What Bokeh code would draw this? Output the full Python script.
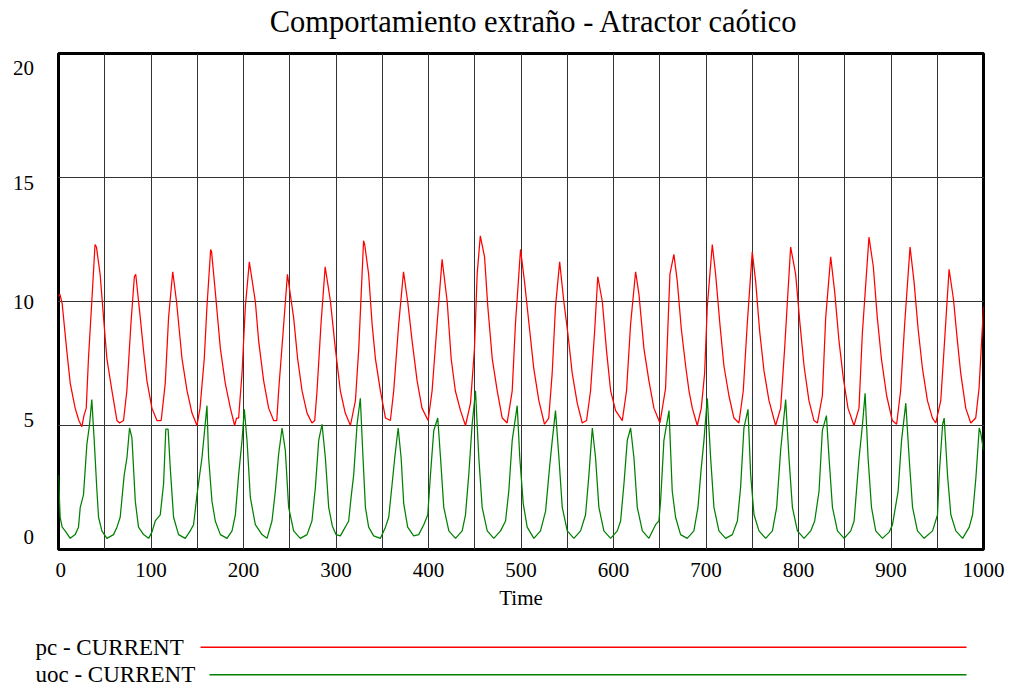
from bokeh.plotting import figure
from bokeh.models import Range1d, FixedTicker, Grid
from bokeh.layouts import column, row
from bokeh.embed import file_html
from bokeh.resources import INLINE
from bokeh.core.properties import value

# ---- simulated series (Time, value) ----
time_pc = [
    0, 1.5, 4, 9, 12.7, 18, 22, 25.3, 27.5, 30, 32.4, 36, 39.5, 41, 45, 48.7, 52.3, 57.8, 63.2, 66,
    70.3, 73.9, 78.3, 82, 83.5, 88.4, 92, 95.6, 101, 106.4, 111, 115.4, 119, 123.5, 127.6, 133.5,
    139, 144.3, 149.7, 153, 157.6, 160.5, 164.5, 165.5, 169.5, 175, 180.3, 185.8, 190.4, 192.5,
    194.7, 198.4, 202, 206.3, 212.8, 216.4, 221.8, 227.2, 232.6, 236, 238, 242.7, 247.5, 254.2,
    258.5, 263.3, 268.7, 274, 277, 279.5, 283.8, 288.3, 294, 299.3, 304.7, 310, 315.6, 321, 324.6,
    329.8, 331, 335.3, 339, 342.6, 348, 353.5, 358.8, 362.4, 367.8, 373, 377.5, 382.3, 387.7, 393,
    399.6, 403.9, 409.3, 414.7, 420.2, 424.5, 429, 434.6, 440, 445.4, 449.7, 452.6, 456, 460.6,
    464.1, 468.9, 474.3, 479.7, 485, 490.5, 494, 499.5, 503.8, 509.5, 513.8, 519.3, 525.4, 530,
    533.7, 537.3, 541.8, 546.3, 550.7, 555.4, 560.8, 566.2, 570.9, 575.2, 579.6, 583, 587.9, 592.5,
    596.9, 602.3, 609.5, 614.1, 618.5, 623.9, 627.5, 632.9, 638.3, 643.7, 650.2, 656.3, 661, 665.3,
    669, 673.3, 678, 681.6, 685.2, 690.6, 694.9, 698.5, 701.4, 706.8, 710.4, 715, 719.4, 724.8,
    730.2, 735.6, 740.3, 744.6, 750, 753.7, 758, 762.7, 768.1, 775.3, 780.7, 785, 791.5, 796.9,
    801.6, 806, 811.3, 816.7, 820.4, 825.8, 829.4, 834.8, 839.1, 843.8, 848.5, 853.5, 860, 865.4,
    869, 876.2, 880.9, 885.2, 889.6, 895.3, 901.4, 906.1, 910.4, 914.8, 920.6, 924.9, 929.3, 934,
    939.4, 944.8, 948.4, 953.8, 957.4, 962.8, 967.5, 971.8, 975.4, 980.8, 986.2, 991.6, 995.2, 1000,
]
pc = [
    10.2, 10.3, 9.9, 8.0, 6.7, 5.7, 5.2, 4.95, 5.4, 5.7, 7.7, 10.0, 12.3, 12.2, 11.1, 9.35, 7.7, 6.4, 5.2, 5.1,
    5.2, 6.4, 9.1, 11.0, 11.1, 9.35, 8.0, 6.8, 5.7, 5.2, 5.2, 6.7, 9.35, 11.2, 10.0, 7.7,
    6.4, 5.5, 5.0, 5.7, 7.7, 9.8, 12.1, 12.0, 10.4, 8.1, 6.7, 5.7, 5.0, 5.3,
    5.3, 7.1, 9.8, 11.6, 10.0, 8.4, 6.8, 5.7, 5.2, 5.2, 6.4, 8.7, 11.1, 9.35,
    7.7, 6.4, 5.5, 5.1, 5.2, 6.4, 9.1, 11.4, 10.0, 8.1, 6.4, 5.5, 5.0, 6.0, 8.1,
    12.45, 12.3, 11.1, 9.1, 7.7, 6.4, 5.3, 5.2, 6.4, 9.1, 11.2, 10.0, 8.4, 6.8, 5.7,
    5.2, 6.4, 9.1, 11.7, 10.0, 7.7, 6.4, 5.6, 5.0, 5.9, 8.1, 11.1, 12.65, 11.8,
    9.8, 7.7, 6.4, 5.3, 5.1, 6.4, 9.1, 12.1, 10.8, 8.8, 7.3, 6.0, 5.05, 5.3,
    7.1, 9.8, 11.6, 10.0, 8.7, 7.1, 5.9, 5.1, 5.2, 6.4, 8.8, 11.0, 10.0, 8.0,
    6.4, 5.6, 5.2, 6.4, 9.1, 11.2, 10.3, 8.1, 6.8, 5.7, 5.1, 6.5, 11.1, 11.9,
    10.8, 8.9, 7.4, 6.4, 5.7, 5.0, 5.7, 7.1, 9.8, 12.3, 11.1, 9.1, 7.4, 6.2,
    5.3, 5.1, 6.4, 9.1, 12.0, 10.8, 8.8, 7.2, 6.0, 5.0, 5.7, 8.1, 12.2, 11.1,
    9.1, 7.4, 6.0, 5.2, 5.1, 6.2, 9.35, 11.8, 10.4, 8.4, 6.9, 5.7, 5.0, 5.7,
    8.7, 12.6, 11.4, 9.35, 7.7, 6.2, 5.2, 5.05, 6.4, 9.1, 12.2, 10.8, 8.9, 7.3,
    6.0, 5.3, 5.1, 6.0, 8.1, 11.3, 10.1, 8.4, 7.1, 5.7, 5.1, 5.3, 6.5, 9.8,
]

time_uoc = [
    0, 1.8, 4, 7.2, 12.7, 18, 21.6, 23.5, 27, 30.7, 33.6, 36, 38.6, 41.5, 43.3, 46.9, 52.3, 59.5,
    63.2, 66.7, 71, 74, 76.8, 79.4, 83, 86.5, 92, 97.4, 101, 104.6, 110, 113.6, 116, 118.5, 120.8,
    124.4, 129.8, 137, 142.4, 146, 149.7, 155.1, 160.5, 162.3, 165.9, 169.5, 175, 182.2, 187.6,
    191.2, 194.7, 198.4, 200.9, 203.8, 207.4, 212.8, 220, 225.4, 230.8, 234.4, 238, 241.7, 245.2,
    248.8, 254.2, 261.4, 268.7, 274, 277.7, 281.3, 284.9, 288.5, 292.1, 296, 300, 304.7, 310,
    313.7, 316.3, 319.1, 322.8, 326.3, 329.2, 331.8, 335.3, 340.7, 348, 353.5, 357, 360.7, 363.5,
    367.2, 370.4, 373.2, 377.5, 384, 389.4, 394.9, 399.2, 402.1, 405.7, 410, 413, 416.5, 422,
    429.2, 436.4, 440, 443.5, 447.2, 450.8, 454.4, 458, 463.5, 470.6, 477.9, 483.3, 486.8, 490.5,
    495.9, 498.7, 502.4, 506.7, 513.9, 521.1, 526.6, 531.2, 533.8, 537.3, 541, 544.6, 550, 557.2,
    564.4, 569.8, 573.4, 577.1, 580.6, 584.2, 589.6, 596.9, 604.1, 607.7, 611.3, 614.9, 618.5,
    622.1, 625.7, 631.2, 638.3, 645.5, 649.1, 651, 654.5, 660, 663.5, 667.1, 672.5, 679.7, 686.9,
    691.3, 694.9, 697.8, 701.4, 705, 708.6, 714, 721.2, 728.5, 733.9, 737.4, 741, 745.4, 748.3,
    751.9, 757.3, 764.5, 771.8, 776.4, 780.7, 786.1, 789.7, 793.4, 798.8, 806, 813.2, 817.5, 822.2,
    825.8, 830.2, 833, 836.7, 842.1, 849.3, 856.5, 860.1, 865.5, 869.2, 872, 875.2, 878.9, 883.5,
    890.8, 898, 901.6, 907.7, 911.4, 916, 919.6, 923.3, 928.6, 935.8, 944.9, 950.3, 952.1, 955.8,
    957.5, 961.1, 964.7, 970.1, 977.4, 984.6, 988.2, 991.8, 995.4, 997, 1000,
]
uoc = [
    3.0, 1.3, 0.9, 0.75, 0.45, 0.6, 0.9, 1.7, 2.2, 4.25, 5.05, 6.05, 4.4, 2.4, 1.3, 0.75, 0.45, 0.6,
    0.9, 1.3, 3.0, 3.7, 4.9, 4.5, 1.95, 0.9, 0.6, 0.45, 0.7, 1.15, 1.4, 2.65, 4.85, 4.85, 3.3,
    1.3, 0.6, 0.45, 0.75, 1.0, 2.2, 3.7, 5.8, 3.7, 1.95, 1.15, 0.6, 0.45, 0.75,
    1.4, 3.0, 4.4, 5.65, 4.4, 2.1, 1.0, 0.6, 0.45, 1.15, 2.35, 3.85, 4.9, 4.0,
    1.7, 0.75, 0.45, 0.6, 1.15, 2.5, 4.4, 5.05, 3.7, 1.7, 0.95, 0.6, 0.55, 0.9,
    1.15, 2.1, 3.0, 5.05, 6.1, 3.7, 1.7, 0.9, 0.55, 0.45, 0.9, 1.3, 2.65, 3.7,
    4.9, 3.7, 1.85, 0.9, 0.55, 0.6, 1.0, 1.4, 3.0, 4.8, 5.3, 3.7, 1.7, 0.75,
    0.45, 0.75, 1.4, 3.0, 5.05, 6.4, 3.7, 1.7, 0.75, 0.45, 0.75, 1.15, 2.35, 4.4,
    5.8, 3.7, 1.85, 0.9, 0.45, 0.75, 1.55, 3.45, 4.4, 5.6, 3.7, 1.7, 0.75, 0.45,
    0.75, 1.4, 3.0, 4.9, 3.7, 1.7, 0.75, 0.45, 0.75, 1.15, 2.65, 4.4, 4.9,
    3.7, 1.7, 0.75, 0.45, 1.0, 1.15, 2.0, 4.4, 5.6, 2.35, 1.3, 0.6, 0.45, 0.75,
    1.7, 3.3, 4.4, 6.1, 3.7, 1.7, 0.75, 0.45, 0.6, 1.15, 2.5, 4.9, 5.65, 3.0,
    1.4, 0.75, 0.45, 0.75, 1.7, 4.0, 6.05, 3.7, 1.7, 0.75, 0.45, 0.75, 1.15, 2.35,
    4.8, 5.4, 3.7, 1.7, 0.75, 0.45, 0.75, 1.15, 3.7, 5.05, 6.3, 3.7, 1.7, 0.75,
    0.45, 0.7, 1.0, 2.35, 4.4, 5.9, 3.7, 1.7, 0.75, 0.45, 0.75, 1.4, 3.0, 5.05,
    5.3, 3.0, 1.4, 0.75, 0.45, 0.9, 1.4, 2.9, 4.9, 4.7, 4.0,
]

x_ticks = [0, 100, 200, 300, 400, 500, 600, 700, 800, 900, 1000]
x_grid_ticks = [50 * i for i in range(1, 20)]
y_ticks = [0, 5, 10, 15, 20]
y_tick_labels = ["0", "5", "10", "15", "20"]
y_grid_ticks = [5, 10, 15]

title_text = "Comportamiento extraño - Atractor caótico"
series_names = ["pc - CURRENT", "uoc - CURRENT"]
series_colors = ["#ff0000", "#008000"]

FONT = "Liberation Serif"
GRID_COLOR = "#333333"
PAGE_W = 1012
TITLE_H = 50          # strip holding the chart title
LABEL_W = 55          # strip holding the value labels
MAIN_H = 575
LEGEND_H = 688 - TITLE_H - MAIN_H


def strip(width, height, **kw):
    """A bare figure used as a drawing surface in pixel coordinates."""
    f = figure(
        width=width, height=height,
        x_range=Range1d(0, width), y_range=Range1d(height, 0),
        output_backend="svg", toolbar_location=None,
        x_axis_location=None, y_axis_location=None,
        min_border_left=0, min_border_right=0, min_border_top=0, min_border_bottom=0,
        frame_align=False, **kw,
    )
    f.outline_line_color = None
    f.grid.visible = False
    f.background_fill_color = "white"
    f.border_fill_color = "white"
    return f


# ---- title ----
head = strip(PAGE_W, TITLE_H)
head.text(x=[533.5], y=[21.5], text=[title_text], text_font=value(FONT),
          text_font_size="30.5px", text_align="center", text_baseline="middle",
          text_color="black")

# ---- main chart ----
p = figure(
    width=PAGE_W - LABEL_W, height=MAIN_H,
    x_range=Range1d(0, 1000), y_range=Range1d(0, 20),
    output_backend="svg", toolbar_location=None,
    y_axis_location=None,
    min_border_left=3, min_border_right=29, min_border_top=3, min_border_bottom=76,
)
p.background_fill_color = "white"
p.border_fill_color = "white"
p.outline_line_color = "black"
p.outline_line_width = 3

xa = p.xaxis[0]
xa.ticker = FixedTicker(ticks=x_ticks)
xa.axis_line_color = None
xa.major_tick_line_color = None
xa.minor_tick_line_color = None
xa.major_label_text_font = FONT
xa.major_label_text_font_size = "21px"
xa.major_label_text_color = "black"
xa.major_label_standoff = 7
xa.axis_label = "Time"
xa.axis_label_text_font = FONT
xa.axis_label_text_font_size = "21px"
xa.axis_label_text_font_style = "normal"
xa.axis_label_text_color = "black"
xa.axis_label_standoff = 6

p.xgrid.ticker = FixedTicker(ticks=x_grid_ticks)
p.xgrid.grid_line_color = GRID_COLOR
p.xgrid.grid_line_width = 1

p.add_layout(Grid(dimension=1, ticker=FixedTicker(ticks=y_grid_ticks),
                  grid_line_color=GRID_COLOR, grid_line_width=1))

p.line(time_pc, pc, line_color=series_colors[0], line_width=1.25)
p.line(time_uoc, uoc, line_color=series_colors[1], line_width=1.25)

# ---- value labels strip, sharing the chart's y scale ----
ylab = figure(
    width=LABEL_W, height=MAIN_H,
    x_range=Range1d(0, LABEL_W), y_range=p.y_range,
    output_backend="svg", toolbar_location=None,
    x_axis_location=None, y_axis_location=None,
    min_border_left=0, min_border_right=0, min_border_top=3, min_border_bottom=76,
)
ylab.outline_line_color = None
ylab.grid.visible = False
ylab.background_fill_color = "white"
ylab.border_fill_color = "white"
# end labels are pulled inward so they stay within the frame height
label_shift = [-13, -6, 0, 5, 14]
ylab.text(x=[33.5] * len(y_ticks), y=y_ticks, text=y_tick_labels, y_offset=label_shift,
          text_font=value(FONT), text_font_size="21px", text_align="right",
          text_baseline="middle", text_color="black")

# ---- legend strip below the chart ----
leg = strip(PAGE_W, LEGEND_H)
leg.text(x=[35, 35], y=[21.7, 49.3], text=series_names, text_font=value(FONT),
         text_font_size="23px", text_baseline="middle", text_align="left", text_color="black")
leg.segment(x0=[200, 209], y0=[21.7, 49.3], x1=[966, 966], y1=[21.7, 49.3],
            line_color=series_colors, line_width=1.6)

layout = column(head, row(ylab, p, spacing=0), leg, spacing=0)
open("out.html", "w").write(file_html(layout, INLINE))
